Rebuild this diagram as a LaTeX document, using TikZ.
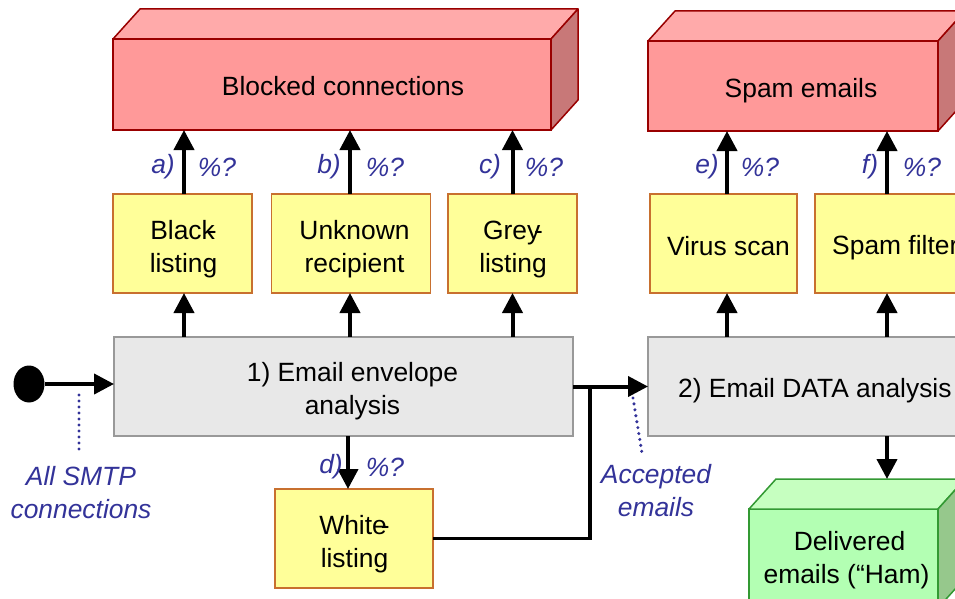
\documentclass[tikz,border=0pt]{standalone}
\usepackage{fontspec}
\setmainfont{Liberation Sans}
\usetikzlibrary{arrows.meta,shapes.geometric,calc}
\definecolor{redF}{HTML}{FF9999}
\definecolor{redT}{HTML}{FFAAAA}
\definecolor{redS}{HTML}{C87878}
\definecolor{redB}{HTML}{990000}
\definecolor{yelF}{HTML}{FFFF99}
\definecolor{yelB}{HTML}{C8702F}
\definecolor{grayF}{HTML}{E8E8E8}
\definecolor{grayB}{HTML}{999999}
\definecolor{grnF}{HTML}{B3FFB3}
\definecolor{grnT}{HTML}{C6FFC0}
\definecolor{grnS}{HTML}{96C88C}
\definecolor{grnB}{HTML}{339933}
\definecolor{lblue}{HTML}{333399}
\begin{document}
\begin{tikzpicture}[x=1pt,y=-1pt,
  txt/.style={font=\fontsize{26.4}{33}\selectfont, align=center, inner sep=0pt},
  lbl/.style={font=\fontsize{26.4}{33}\selectfont\itshape, text=lblue, inner sep=0pt, align=center},
  redbox/.style={draw=redB, fill=redF, line width=1.5pt, inner sep=0pt, outer sep=0pt},
  redtop/.style={draw=redB, fill=redT, line width=1.5pt, line join=round},
  redside/.style={draw=redB, fill=redS, line width=1.5pt, line join=round},
  yelbox/.style={draw=yelB, fill=yelF, line width=1.4pt, inner sep=0pt, outer sep=0pt, minimum height=99pt},
  graybox/.style={draw=grayB, fill=grayF, line width=1.3pt, inner sep=0pt, outer sep=0pt, minimum height=99pt},
  grnbox/.style={draw=grnB, fill=grnF, line width=1.5pt, inner sep=0pt, outer sep=0pt},
  grntop/.style={draw=grnB, fill=grnT, line width=1.5pt, line join=round},
  grnside/.style={draw=grnB, fill=grnS, line width=1.5pt, line join=round},
  arr/.style={line width=4pt, -{Triangle[length=20pt,width=20pt]}},
  conn/.style={line width=3.5pt},
  hint/.style={draw=lblue, line width=3.4pt, line cap=round, dash pattern=on 0pt off 6pt},
]
\clip (0,0) rectangle (955,599);
\fill[white] (0,0) rectangle (955,599);

% ---- red 3D boxes
\node[redbox, minimum width=438pt, minimum height=91pt] (blocked) at (332,84.5) {};
\draw[redtop] (blocked.north west) -- ++(27,-30) -- ($(blocked.north east)+(27,-30)$) -- (blocked.north east) -- cycle;
\draw[redside] (blocked.north east) -- ++(27,-30) -- ($(blocked.south east)+(27,-30)$) -- (blocked.south east) -- cycle;
\node[txt] (blockedtext) at ($(blocked)+(11,1.5)$) {Blocked connections};

\node[redbox, minimum width=290pt, minimum height=90pt] (spam) at (793,86) {};
\draw[redtop] (spam.north west) -- ++(27,-30) -- ($(spam.north east)+(27,-30)$) -- (spam.north east) -- cycle;
\draw[redside] (spam.north east) -- ++(27,-30) -- ($(spam.south east)+(27,-30)$) -- (spam.south east) -- cycle;
\node[txt] (spamtext) at ($(spam)+(8,5)$) {Spam emails};

% ---- yellow boxes
\node[yelbox, minimum width=139pt] (black) at (182.5,243.5) {};
\node[txt] (blacktext) at ($(black)+(1,6)$) {Black\kern-7pt-\\listing};
\node[yelbox, minimum width=159pt] (unknown) at (351,243.5) {};
\node[txt] (unknowntext) at ($(unknown)+(3.5,6)$) {Unknown\\recipient};
\node[yelbox, minimum width=129pt] (grey) at (512.5,243.5) {};
\node[txt] (greytext) at ($(grey)+(0.5,6)$) {Grey\kern-6pt-\\listing};
\node[yelbox, minimum width=147pt] (virus) at (723.5,243.5) {};
\node[txt] (virustext) at ($(virus)+(5,2.5)$) {Virus scan};
\node[yelbox, minimum width=147pt] (spamf) at (888.5,243.5) {};
\node[txt, anchor=west] (spamftext) at ($(spamf.west)+(17,4)$) {Spam filter};
\node[yelbox, minimum width=158pt] (white) at (354,538.5) {};
\node[txt] (whitetext) at ($(white)+(0.5,5.5)$) {White\kern-6pt-\\listing};

% ---- grey analysis boxes
\node[graybox, minimum width=459pt] (env) at (343.5,386.5) {};
\node[txt] (envtext) at ($(env)+(9,5)$) {1) Email envelope\\analysis};
\node[graybox, minimum width=333pt] (data) at (814.5,386.5) {};
\node[txt, anchor=west] (datatext) at ($(data.west)+(30,4)$) {2) Email DATA analysis};

% ---- green 3D box
\node[grnbox, minimum width=189pt, minimum height=99pt] (deliv) at (843.5,558.5) {};
\draw[grntop] (deliv.north west) -- ++(27,-30) coordinate (gtopl) -- ($(deliv.north east)+(27,-30)$) -- (deliv.north east) -- cycle;
\draw[grnside] (deliv.north east) -- ++(27,-30) -- ($(deliv.south east)+(27,-30)$) -- (deliv.south east) -- cycle;
\node[txt] (delivtext) at ($(deliv)+(3,1.5)$) {\hspace*{6pt}Delivered\\emails (“Ham)};

% ---- start dot
\node[ellipse, fill=black, minimum width=31pt, minimum height=37pt, inner sep=0pt] (start) at (29,384) {};

% ---- connectors
\draw[arr] (start.east) -- (start.east -| env.west);

\draw[arr] ([xshift=1.5pt]black.south |- env.north) -- ([xshift=1.5pt]black.south);
\draw[arr] ([xshift=-1pt]unknown.south |- env.north) -- ([xshift=-1pt]unknown.south);
\draw[arr] (grey.south |- env.north) -- (grey.south);
\draw[arr] ([xshift=1.5pt]black.north) -- ([xshift=1.5pt]black.north |- blocked.south);
\draw[arr] ([xshift=-1pt]unknown.north) -- ([xshift=-1pt]unknown.north |- blocked.south);
\draw[arr] (grey.north) -- (grey.north |- blocked.south);

\draw[arr] ([xshift=3.5pt]virus.south |- data.north) -- ([xshift=3.5pt]virus.south);
\draw[arr] ([xshift=-1.5pt]spamf.south |- data.north) -- ([xshift=-1.5pt]spamf.south);
\draw[arr] ([xshift=3.5pt]virus.north) -- ([xshift=3.5pt]virus.north |- spam.south);
\draw[arr] ([xshift=-1.5pt]spamf.north) -- ([xshift=-1.5pt]spamf.north |- spam.south);

\draw[arr] ([xshift=-6pt]white.north |- env.south) -- ([xshift=-6pt]white.north);

\coordinate (j) at (590,386.5);
\draw[arr] (env.east) -- (data.west);
\draw[conn] (white.east) -| (j);

\draw[arr] ([xshift=72.5pt]data.south) -- ([xshift=72.5pt]data.south |- gtopl);

% ---- labels
\node[lbl] (la) at (163,167) {a)};
\node[lbl] (pa) at (217,167) {\%?};
\node[lbl] (lb) at (329,167) {b)};
\node[lbl] (pb) at (385,167) {\%?};
\node[lbl] (lc) at (490,167) {c)};
\node[lbl] (pc) at (544,167) {\%?};
\node[lbl] (le) at (707,167) {e)};
\node[lbl] (pe) at (760,167) {\%?};
\node[lbl] (lf) at (870,167) {f)};
\node[lbl] (pf) at (922,167) {\%?};
\node[lbl] (ld) at (331,467) {d)};
\node[lbl] (pd) at (385,467) {\%?};

\node[lbl] (smtp) at (81,492.5) {All SMTP\\connections};
\node[lbl] (accepted) at (656,490.5) {Accepted\\emails};

\coordinate (h1a) at (79,395);
\coordinate (h1b) at (79,450);
\draw[hint] (h1a) -- (h1b);
\coordinate (h2a) at (633,398);
\coordinate (h2b) at (642,453);
\draw[hint] (h2a) -- (h2b);
\end{tikzpicture}
\end{document}
